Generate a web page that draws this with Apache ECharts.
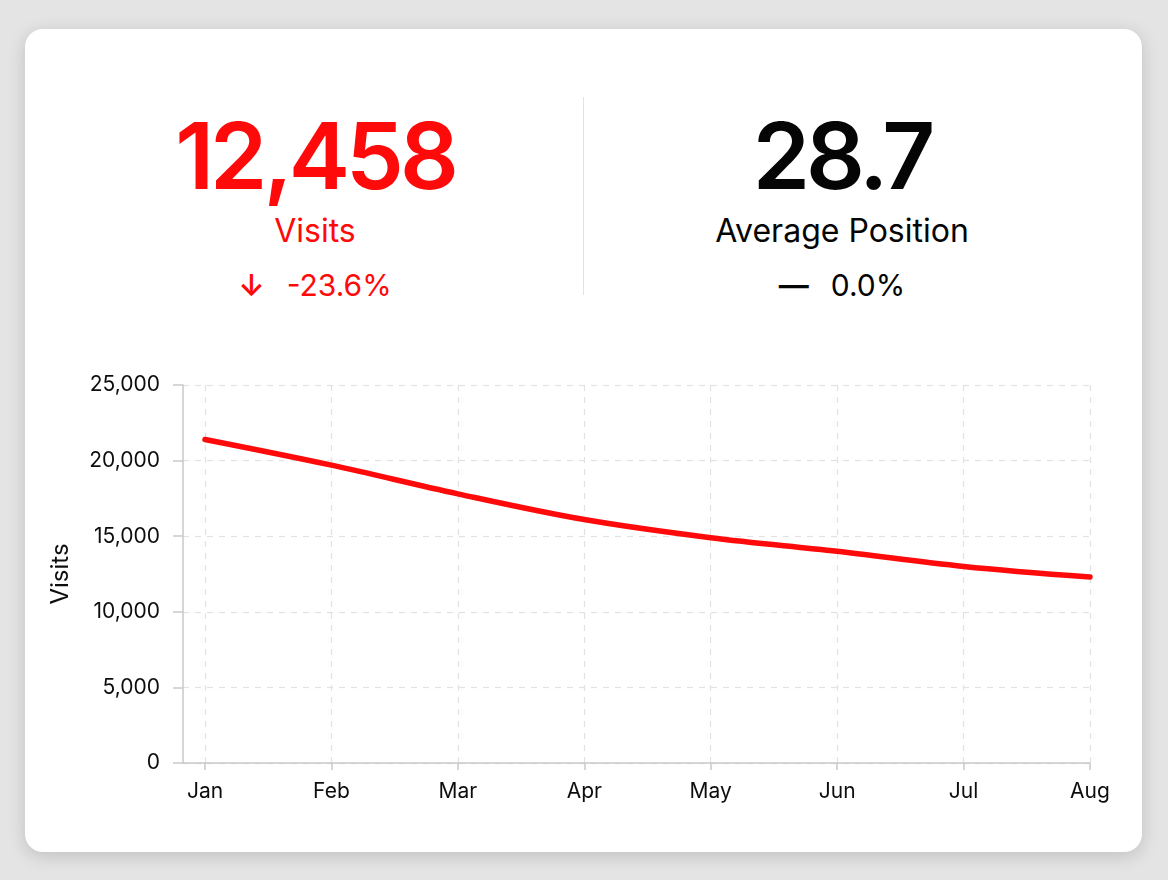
<!DOCTYPE html>
<html>
<head>
<meta charset="utf-8">
<script src="https://cdn.jsdelivr.net/npm/echarts@6/dist/echarts.min.js"></script>
<style>
  html, body { margin: 0; padding: 0; width: 1168px; height: 880px; overflow: hidden; }
  body { background: #e4e4e4; font-family: Inter, "Noto Sans", sans-serif; }
  .card {
    position: absolute; left: 25px; top: 29px; width: 1117px; height: 823px;
    background: #fff; border-radius: 18px;
    box-shadow: 0 4px 18px rgba(0, 0, 0, 0.16);
  }
  .kpi { position: absolute; width: 500px; text-align: center; line-height: 1; white-space: nowrap; }
  .big { font-size: 92px; font-weight: 600; letter-spacing: -4px; }
  .label { font-size: 32px; }
  .delta { font-size: 30px; }
  .delta .icon { margin-right: 22px; font-weight: 600; }
  .divider { position: absolute; left: 583px; top: 97px; width: 1px; height: 198px; background: #e2e2e2; }
  #chart { position: absolute; left: 0; top: 0; width: 1168px; height: 880px; }
</style>
</head>
<body>
<div class="card"></div>
<div class="divider"></div>
<div id="kpis"></div>
<div id="chart"></div>
<script>
const months = ["Jan", "Feb", "Mar", "Apr", "May", "Jun", "Jul", "Aug"];
const visits = [21400, 19700, 17800, 16100, 14900, 14000, 13000, 12300];

const kpiCards = [
    {value: "12,458", label: "Visits", icon: "↓", change: "-23.6%", color: "#ff0a0a", center: 315},
    {value: "28.7", label: "Average Position", icon: "—", change: "0.0%", color: "#050505", center: 842},
];

const kpiBox = document.getElementById("kpis");
kpiCards.forEach(k => {
    const left = k.center - 250;
    kpiBox.insertAdjacentHTML("beforeend", `
        <div class="kpi big" style="left:${left}px;top:110px;color:${k.color}">${k.value}</div>
        <div class="kpi label" style="left:${left}px;top:215px;color:${k.color}">${k.label}</div>
        <div class="kpi delta" style="left:${left}px;top:270px;color:${k.color}"><span class="icon">${k.icon}</span>${k.change}</div>
    `);
});

const chart = echarts.init(document.getElementById("chart"));
const axisColor = "#c9c9c9";
const textColor = "#0d0d0d";
const monthIdx = months.map((m, i) => i);

chart.setOption({
    animation: false,
    textStyle: {fontFamily: "Inter, 'Noto Sans', sans-serif"},
    grid: {left: 183, right: 78, top: 385, bottom: 117},
    xAxis: {
        type: "value",
        min: -0.174,
        max: months.length - 1,
        axisLine: {show: true, onZero: false, lineStyle: {color: axisColor, width: 1.5}},
        axisTick: {show: true, customValues: monthIdx, length: 7, lineStyle: {color: axisColor, width: 1.5}},
        axisLabel: {
            customValues: monthIdx,
            formatter: v => months[v] || "",
            fontSize: 21, color: textColor, margin: 18
        },
        splitLine: {show: true, lineStyle: {color: "#e2e2e2", type: [6, 6], width: 1.2}}
    },
    yAxis: {
        type: "value",
        min: 0,
        max: 25000,
        interval: 5000,
        name: "Visits",
        nameLocation: "middle",
        nameGap: 110,
        nameTextStyle: {fontSize: 24, color: textColor},
        axisLine: {show: true, onZero: false, lineStyle: {color: axisColor, width: 1.5}},
        axisTick: {show: true, length: 10, lineStyle: {color: axisColor, width: 1.5}},
        axisLabel: {
            formatter: v => v.toLocaleString("en-US"),
            fontSize: 21, color: textColor, margin: 23
        },
        splitLine: {show: true, lineStyle: {color: "#e2e2e2", type: [6, 6], width: 1.2}}
    },
    series: [{
        type: "line",
        data: visits.map((v, i) => [i, v]),
        smooth: 0.35,
        showSymbol: false,
        lineStyle: {color: "#ff0a0a", width: 5.5, cap: "round"}
    }]
});
</script>
</body>
</html>
